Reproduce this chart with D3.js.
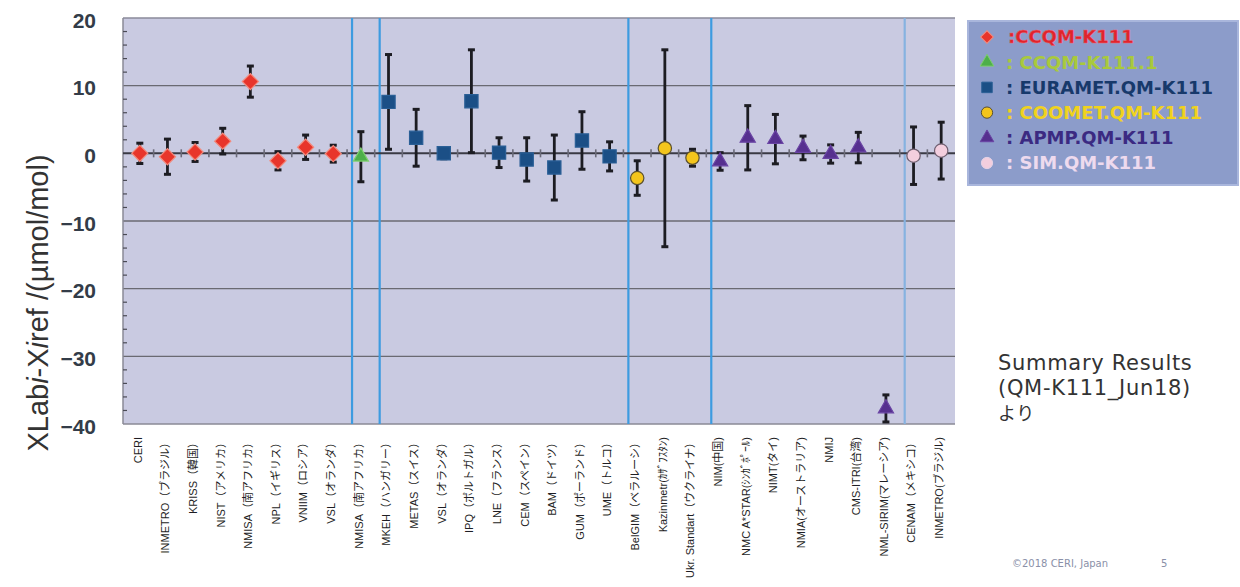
<!DOCTYPE html>
<html>
<head>
<meta charset="utf-8">
<script src="https://cdn.jsdelivr.net/npm/d3@7"></script>
<style>
  body { margin: 0; background: #fff; }
  svg { display: block; }
</style>
</head>
<body>
<svg id="chart"></svg>
<script>
// Participating labs, in plotted order
const labs = [
  "CERI", "INMETRO（ブラジル）", "KRISS（韓国）", "NIST（アメリカ）", "NMISA（南アフリカ）",
  "NPL（イギリス）", "VNIIM（ロシア）", "VSL（オランダ）",
  "NMISA（南アフリカ）",
  "MKEH（ハンガリー）", "METAS（スイス）", "VSL（オランダ）", "IPQ（ポルトガル）", "LNE（フランス）",
  "CEM（スペイン）", "BAM（ドイツ）", "GUM（ポーランド）", "UME（トルコ）",
  "BelGIM（ベラルーシ）", "Kazinmetr(ｶｻﾞﾌｽﾀﾝ)", "Ukr. Standart（ウクライナ）",
  "NIM(中国)", "NMC A*STAR(ｼﾝｶﾞﾎﾟｰﾙ)", "NIMT(タイ)", "NMIA(オーストラリア)", "NMIJ",
  "CMS-ITRI(台湾)", "NML-SIRIM(マレーシア)",
  "CENAM（メキシコ）", "INMETRO(ブラジル)"
];
// comparison index for each lab (see series below)
const groupOf = [0,0,0,0,0,0,0,0, 1, 2,2,2,2,2,2,2,2,2, 3,3,3, 4,4,4,4,4,4,4, 5,5];
// XLabi - Xiref (µmol/mol) and expanded uncertainty
const diffs = [0.0, -0.5, 0.2, 1.8, 10.6, -1.1, 0.9, -0.05,
  -0.5,
  7.6, 2.3, 0.0, 7.7, 0.1, -0.9, -2.1, 1.9, -0.45,
  -3.65, 0.75, -0.65,
  -1.2, 2.3, 2.1, 0.8, -0.1, 0.85, -37.7,
  -0.35, 0.4];
const uncs = [1.5, 2.6, 1.4, 1.9, 2.3, 1.35, 1.8, 1.25,
  3.7,
  7.0, 4.2, 0.8, 7.6, 2.2, 3.2, 4.8, 4.25, 2.15,
  2.55, 14.55, 1.25,
  1.3, 4.75, 3.65, 1.75, 1.35, 2.25, 2.0,
  4.25, 4.2];

const seriesNames = ["CCQM-K111", "CCQM-K111.1", "EURAMET.QM-K111", "COOMET.QM-K111", "APMP.QM-K111", "SIM.QM-K111"];
const yTicks = [20, 10, 0, -10, -20, -30, -40];
const noteLines = ["Summary Results", "(QM-K111_Jun18)", "より"];

// marker look per comparison
const markerStyle = [
  { shape: "diamond",  fill: "#e8352b", stroke: "#f38a7c", text: "#e0242c" },
  { shape: "triangle", fill: "#4daf4a", stroke: "#7fcf70", text: "#a9c93c" },
  { shape: "square",   fill: "#1b4f86", stroke: "#2a5f96", text: "#17396b" },
  { shape: "circle",   fill: "#f4c51c", stroke: "#5a5030", text: "#f0d21e" },
  { shape: "triangle", fill: "#56308f", stroke: "#6a44a4", text: "#3b2a82" },
  { shape: "circle",   fill: "#f3cede", stroke: "#6f5f70", text: "#eedaee" }
];

const W = 1240, H = 587;
const plot = { left: 123, right: 955, top: 18, bottom: 424 };

const svg = d3.select("#chart").attr("width", W).attr("height", H);

const x = d3.scaleBand()
  .domain(d3.range(labs.length))
  .range([plot.left + 3, plot.right])
  .paddingInner(0);

const y = d3.scaleLinear().domain([-40, 20]).range([plot.bottom, plot.top]);

function symPath(shape, size) {
  if (shape === "triangle") return d3.symbol(d3.symbolTriangle, size)();
  if (shape === "circle") return d3.symbol(d3.symbolCircle, size)();
  return d3.symbol(d3.symbolSquare, size)(); // square, or diamond once rotated
}
const symSize = { diamond: 130, triangle: 100, square: 175, circle: 140 };

// plot background
svg.append("rect")
  .attr("x", plot.left).attr("y", plot.top)
  .attr("width", plot.right - plot.left).attr("height", plot.bottom - plot.top)
  .attr("fill", "#c9cae1");

// horizontal grid lines
svg.append("g")
  .selectAll("line")
  .data(yTicks.filter(d => d !== 0 && d !== -40))
  .join("line")
  .attr("x1", plot.left).attr("x2", plot.right)
  .attr("y1", d => y(d)).attr("y2", d => y(d))
  .attr("stroke", d => d === 20 ? "#8a8a9a" : "#6a6a72")
  .attr("stroke-width", 1.3);

// bottom frame + left axis
svg.append("line")
  .attr("x1", plot.left).attr("x2", plot.right)
  .attr("y1", plot.bottom).attr("y2", plot.bottom)
  .attr("stroke", "#8a8a96").attr("stroke-width", 1.5);
svg.append("line")
  .attr("x1", plot.left).attr("x2", plot.left)
  .attr("y1", plot.top).attr("y2", plot.bottom)
  .attr("stroke", "#8a8a96").attr("stroke-width", 1.5);

// minor ticks on the left axis, every 2 units
svg.append("g")
  .selectAll("line")
  .data(d3.range(-38, 20, 2).filter(d => d % 10 !== 0))
  .join("line")
  .attr("x1", plot.left).attr("x2", plot.left + 4)
  .attr("y1", d => y(d)).attr("y2", d => y(d))
  .attr("stroke", "#4a4a55").attr("stroke-width", 1.2);

// group separators (blue)
const sepIdx = [8, 9, 18, 21, 28];
svg.append("g")
  .selectAll("line")
  .data(sepIdx)
  .join("line")
  .attr("x1", d => x(d) + x.step() * 0.18)
  .attr("x2", d => x(d) + x.step() * 0.18)
  .attr("y1", plot.top).attr("y2", plot.bottom)
  .attr("stroke", (d, i) => i === sepIdx.length - 1 ? "#86b2e0" : "#3d9be0")
  .attr("stroke-width", 2.2);

// zero line with tick crosses at band boundaries
svg.append("line")
  .attr("x1", plot.left).attr("x2", plot.right)
  .attr("y1", y(0)).attr("y2", y(0))
  .attr("stroke", "#3a3a44").attr("stroke-width", 2);
svg.append("g")
  .selectAll("line")
  .data(d3.range(1, labs.length))
  .join("line")
  .attr("x1", d => x(d)).attr("x2", d => x(d))
  .attr("y1", y(0) - 4).attr("y2", y(0) + 4)
  .attr("stroke", "#6a6a78").attr("stroke-width", 1.6);

// y tick labels
svg.append("g")
  .selectAll("text")
  .data(yTicks)
  .join("text")
  .attr("x", 96)
  .attr("y", d => y(d) + 2)
  .attr("dy", "0.36em")
  .attr("text-anchor", "end")
  .attr("font-family", "'Liberation Sans', Arial, sans-serif")
  .attr("font-weight", "bold")
  .attr("font-size", 21)
  .attr("fill", "#333c48")
  .text(d => d3.format("d")(d));

// y axis title
const yTitle = svg.append("text")
  .attr("transform", `translate(48,${(plot.top + plot.bottom) / 2 + 82}) rotate(-90)`)
  .attr("text-anchor", "middle")
  .attr("font-family", "'Liberation Sans', Arial, sans-serif")
  .attr("font-size", 29)
  .attr("fill", "#333");
yTitle.append("tspan").text("XLab");
yTitle.append("tspan").attr("font-style", "italic").text("i");
yTitle.append("tspan").text("-X");
yTitle.append("tspan").attr("font-style", "italic").text("i");
yTitle.append("tspan").text("ref /(µmol/mol)");

// error bars
const bars = svg.append("g");
labs.forEach((lab, i) => {
  const cx = x(i) + x.bandwidth() / 2;
  const y1 = y(diffs[i] + uncs[i]), y2 = y(diffs[i] - uncs[i]);
  bars.append("line")
    .attr("x1", cx).attr("x2", cx).attr("y1", y1).attr("y2", y2)
    .attr("stroke", "#1c1c22").attr("stroke-width", 2.8);
  [y1, y2].forEach(yy => {
    bars.append("line")
      .attr("x1", cx - 3.5).attr("x2", cx + 3.5).attr("y1", yy).attr("y2", yy)
      .attr("stroke", "#1c1c22").attr("stroke-width", 3);
  });
});

// markers
svg.append("g")
  .selectAll("path")
  .data(d3.range(labs.length))
  .join("path")
  .attr("d", i => symPath(markerStyle[groupOf[i]].shape, symSize[markerStyle[groupOf[i]].shape]))
  .attr("transform", i => {
    const s = markerStyle[groupOf[i]].shape;
    return `translate(${x(i) + x.bandwidth() / 2},${y(diffs[i])})` + (s === "diamond" ? " rotate(45)" : "");
  })
  .attr("fill", i => markerStyle[groupOf[i]].fill)
  .attr("stroke", i => markerStyle[groupOf[i]].stroke)
  .attr("stroke-width", 1.2);

// category labels (rotated)
svg.append("g")
  .selectAll("text")
  .data(labs)
  .join("text")
  .attr("transform", (d, i) => `translate(${x(i) + x.bandwidth() / 2 - 2},437) rotate(-90)`)
  .attr("dy", "0.35em")
  .attr("text-anchor", "end")
  .attr("font-family", "'Liberation Sans', 'Noto Sans CJK JP', sans-serif")
  .attr("font-size", 11)
  .attr("fill", "#1e1e24")
  .text(d => d);

// legend
const lg = svg.append("g").attr("transform", "translate(968,21)");
lg.append("rect")
  .attr("width", 270).attr("height", 164)
  .attr("fill", "#8c9cca")
  .attr("stroke", "#a9b6dc").attr("stroke-width", 2);
seriesNames.forEach((name, k) => {
  const st = markerStyle[k];
  const cy = 16 + k * 25.2;
  const lsize = { diamond: 80, triangle: 80, square: 110, circle: 100 }[st.shape];
  lg.append("path")
    .attr("d", symPath(st.shape, lsize))
    .attr("transform", `translate(19,${cy})` + (st.shape === "diamond" ? " rotate(45)" : ""))
    .attr("fill", st.fill)
    .attr("stroke", k === 5 ? "#e4d2e6" : st.stroke)
    .attr("stroke-width", 1);
  lg.append("text")
    .attr("x", k === 0 ? 40 : 38)
    .attr("y", cy)
    .attr("dy", "0.36em")
    .attr("font-family", "'DejaVu Sans', Verdana, sans-serif")
    .attr("font-weight", "bold")
    .attr("font-size", 18)
    .attr("fill", st.text)
    .attr("stroke", k === 0 ? "#f06070" : "none")
    .attr("stroke-width", 0.4)
    .text(k === 0 ? ":" + name : " : " + name);
});

// source note
const note = svg.append("g")
  .attr("font-family", "'DejaVu Sans', Verdana, sans-serif")
  .attr("font-size", 21)
  .attr("letter-spacing", 0.7)
  .attr("fill", "#333");
noteLines.forEach((t, i) => {
  note.append("text")
    .attr("x", 998).attr("y", 370 + i * 25)
    .attr("font-family", i === 2 ? "'Noto Sans CJK JP', sans-serif" : null)
    .attr("font-size", i === 2 ? 18 : null)
    .text(t);
});

svg.append("text")
  .attr("x", 1012).attr("y", 567)
  .attr("font-family", "'DejaVu Sans', Verdana, sans-serif")
  .attr("font-size", 10)
  .attr("fill", "#8a90a8")
  .text("©2018 CERI, Japan");
svg.append("text")
  .attr("x", 1161).attr("y", 567)
  .attr("font-family", "'DejaVu Sans', Verdana, sans-serif")
  .attr("font-size", 10)
  .attr("fill", "#8a90a8")
  .text("5");
</script>
</body>
</html>
